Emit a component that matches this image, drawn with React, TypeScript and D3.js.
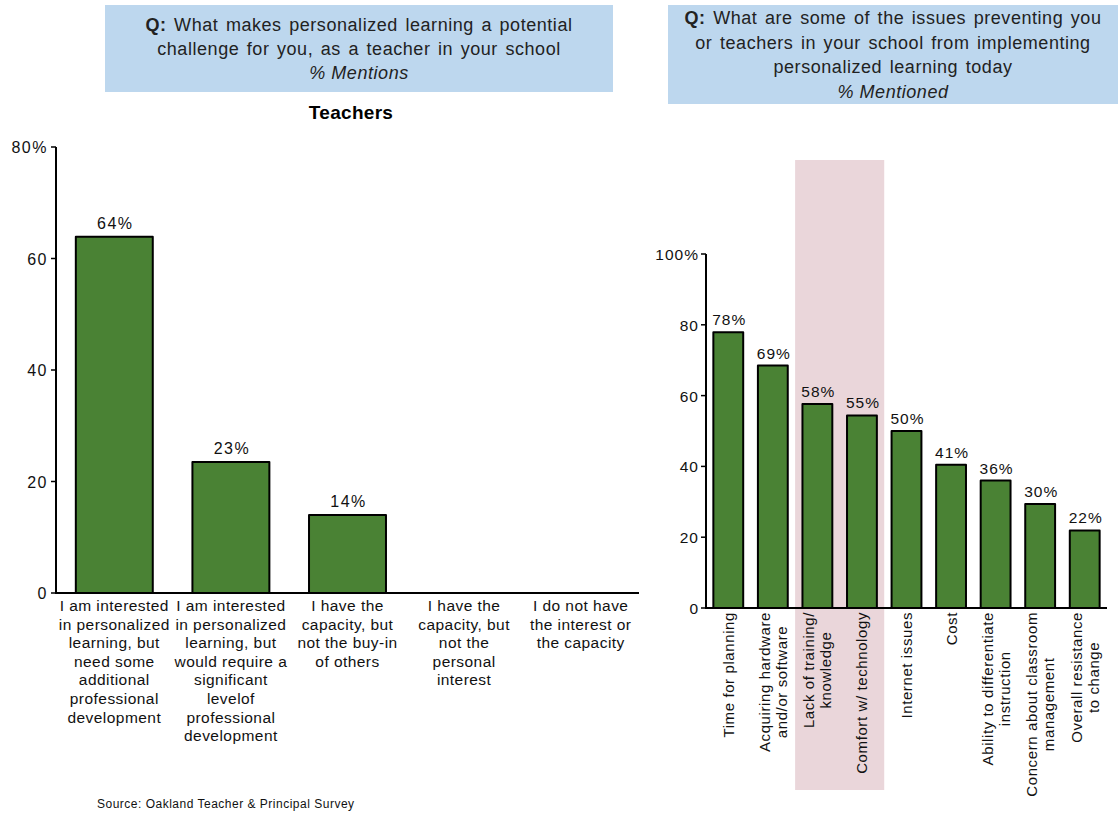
import React, { useEffect, useRef } from "react";
import * as d3 from "d3";

const leftCategories = [
  "I am interested|in personalized|learning, but|need some|additional|professional|development",
  "I am interested|in personalized|learning, but|would require a|significant|levelof|professional|development",
  "I have the|capacity, but|not the buy-in|of others",
  "I have the|capacity, but|not the|personal|interest",
  "I do not have|the interest or|the capacity",
];
const leftValues = [63.9, 23.5, 14.0, 0, 0];
const leftValueLabels = ["64%", "23%", "14%", "", ""];
const leftTicks = [0, 20, 40, 60, 80];
const leftTickLabels = ["0", "20", "40", "60", "80%"];

const rightCategories = [
  "Time for planning",
  "Acquiring hardware|and/or software",
  "Lack of training/|knowledge",
  "Comfort w/ technology",
  "Internet issues",
  "Cost",
  "Ability to differentiate|instruction",
  "Concern about classroom|management",
  "Overall resistance|to change",
];
const rightValues = [77.9, 68.5, 57.6, 54.4, 50.0, 40.5, 36.0, 29.4, 21.9];
const rightValueLabels = ["78%", "69%", "58%", "55%", "50%", "41%", "36%", "30%", "22%"];
const rightTicks = [0, 20, 40, 60, 80, 100];
const rightTickLabels = ["0", "20", "40", "60", "80", "100%"];
const highlighted = [2, 3];

const leftTitle = [
  [{ t: "Q:", b: true }, { t: " What makes personalized learning a potential", b: false }],
  [{ t: "challenge for you, as a teacher in your school", b: false }],
];
const leftSubtitle = "% Mentions";
const rightTitle = [
  [{ t: "Q:", b: true }, { t: " What are some of the issues preventing you", b: false }],
  [{ t: "or teachers in your school from implementing", b: false }],
  [{ t: "personalized learning today", b: false }],
];
const rightSubtitle = "% Mentioned";

const FONT = "'Liberation Sans', Arial, sans-serif";
const GREEN = "#4a8234";

export default function App() {
  const ref = useRef<SVGSVGElement>(null);

  useEffect(() => {
    const svg = d3.select(ref.current);
    svg.selectAll("*").remove();
    svg.style("font-family", FONT);

    // ---------- Title boxes ----------
    const drawTitle = (x0: number, x1: number, y0: number, y1: number, lines: any[], sub: string, firstY: number, dy: number) => {
      svg.append("rect").attr("x", x0).attr("y", y0).attr("width", x1 - x0).attr("height", y1 - y0).attr("fill", "#bdd7ee");
      const cx = (x0 + x1) / 2;
      lines.forEach((parts: any[], i: number) => {
        const t = svg.append("text").attr("x", cx).attr("y", firstY + i * dy).attr("text-anchor", "middle")
          .attr("font-size", 18).attr("letter-spacing", 0.55).attr("word-spacing", 2).attr("fill", "#222");
        parts.forEach((p) => t.append("tspan").attr("font-weight", p.b ? "bold" : "normal").text(p.t));
      });
      svg.append("text").attr("x", cx).attr("y", firstY + lines.length * dy).attr("text-anchor", "middle")
        .attr("font-size", 18).attr("letter-spacing", 0.55).attr("font-style", "italic").attr("fill", "#222").text(sub);
    };
    drawTitle(105, 613, 5, 92, leftTitle, leftSubtitle, 31, 24);
    drawTitle(668, 1118, 5, 104, rightTitle, rightSubtitle, 24, 24.5);

    svg.append("text").attr("x", 351).attr("y", 119).attr("text-anchor", "middle").attr("font-size", 19)
      .attr("letter-spacing", 0.3).attr("font-weight", "bold").text("Teachers");

    // ---------- Left chart ----------
    const yL = d3.scaleLinear().domain([0, 80]).range([593, 147]);
    const xL = d3.scaleBand().domain(leftCategories).range([56, 639]).paddingInner(0.34).paddingOuter(0.17);
    const gL = svg.append("g");
    gL.selectAll("rect.bar").data(leftCategories.map((c, i) => ({ c, v: leftValues[i] })).filter((d) => d.v > 0))
      .enter().append("rect")
      .attr("x", (d) => xL(d.c)!).attr("width", xL.bandwidth())
      .attr("y", (d) => yL(d.v)).attr("height", (d) => yL(0) - yL(d.v))
      .attr("fill", GREEN).attr("stroke", "#000").attr("stroke-width", 2).attr("stroke-linejoin", "round");
    leftCategories.forEach((c, i) => {
      if (!leftValueLabels[i]) return;
      gL.append("text").attr("x", xL(c)! + xL.bandwidth() / 2 + 1).attr("y", yL(leftValues[i]) - 8)
        .attr("text-anchor", "middle").attr("font-size", 16).attr("letter-spacing", 1.5).attr("fill", "#111").text(leftValueLabels[i]);
    });
    // axes
    gL.append("line").attr("x1", 56).attr("x2", 56).attr("y1", yL(80)).attr("y2", yL(0)).attr("stroke", "#000").attr("stroke-width", 2);
    gL.append("line").attr("x1", 55).attr("x2", 639).attr("y1", yL(0)).attr("y2", yL(0)).attr("stroke", "#000").attr("stroke-width", 2);
    leftTicks.forEach((t, i) => {
      gL.append("line").attr("x1", 51).attr("x2", 56).attr("y1", yL(t)).attr("y2", yL(t)).attr("stroke", "#000").attr("stroke-width", 1.5);
      gL.append("text").attr("x", 48).attr("y", yL(t) + 6).attr("text-anchor", "end").attr("font-size", 16)
        .attr("letter-spacing", 1.5).attr("fill", "#111").text(leftTickLabels[i]);
    });
    leftCategories.forEach((c) => {
      const lines = c.split("|");
      const cx = xL(c)! + xL.bandwidth() / 2;
      lines.forEach((ln, j) => {
        gL.append("text").attr("x", cx).attr("y", 611 + j * 18.6).attr("text-anchor", "middle")
          .attr("font-size", 15.5).attr("letter-spacing", 0.45).attr("fill", "#111").text(ln);
      });
    });

    svg.append("text").attr("x", 97).attr("y", 808).attr("font-size", 12).attr("letter-spacing", 0.5).attr("fill", "#111")
      .text("Source: Oakland Teacher & Principal Survey");

    // ---------- Right chart ----------
    const yR = d3.scaleLinear().domain([0, 100]).range([608, 254]);
    const xR = d3.scaleBand().domain(rightCategories).range([706, 1107]).paddingInner(0.33).paddingOuter(0.165);
    const gR = svg.append("g");
    const step = xR.step();
    const hx0 = xR(rightCategories[highlighted[0]])! - (step - xR.bandwidth()) / 2;
    const hx1 = xR(rightCategories[highlighted[highlighted.length - 1]])! + xR.bandwidth() + (step - xR.bandwidth()) / 2;
    gR.append("rect").attr("x", hx0).attr("y", 160).attr("width", hx1 - hx0).attr("height", 630).attr("fill", "#ead6da");

    gR.selectAll("rect.bar").data(rightCategories.map((c, i) => ({ c, v: rightValues[i] })))
      .enter().append("rect")
      .attr("x", (d) => xR(d.c)!).attr("width", xR.bandwidth())
      .attr("y", (d) => yR(d.v)).attr("height", (d) => yR(0) - yR(d.v))
      .attr("fill", GREEN).attr("stroke", "#000").attr("stroke-width", 2).attr("stroke-linejoin", "round");
    rightCategories.forEach((c, i) => {
      gR.append("text").attr("x", xR(c)! + xR.bandwidth() / 2 + 1).attr("y", yR(rightValues[i]) - 7)
        .attr("text-anchor", "middle").attr("font-size", 15.5).attr("letter-spacing", 1).attr("fill", "#111").text(rightValueLabels[i]);
    });
    gR.append("line").attr("x1", 706).attr("x2", 706).attr("y1", yR(100)).attr("y2", yR(0)).attr("stroke", "#000").attr("stroke-width", 2);
    gR.append("line").attr("x1", 705).attr("x2", 1107).attr("y1", yR(0)).attr("y2", yR(0)).attr("stroke", "#000").attr("stroke-width", 2);
    rightTicks.forEach((t, i) => {
      gR.append("line").attr("x1", 701).attr("x2", 706).attr("y1", yR(t)).attr("y2", yR(t)).attr("stroke", "#000").attr("stroke-width", 1.5);
      gR.append("text").attr("x", 699).attr("y", yR(t) + 6).attr("text-anchor", "end").attr("font-size", 15.5)
        .attr("letter-spacing", 1).attr("fill", "#111").text(rightTickLabels[i]);
    });
    rightCategories.forEach((c) => {
      const lines = c.split("|");
      const cx = xR(c)! + xR.bandwidth() / 2;
      const g = gR.append("g").attr("transform", `translate(${cx},612) rotate(-90)`);
      const texts = lines.map((ln, j) =>
        g.append("text").attr("y", 5.5 + (j - (lines.length - 1) / 2) * 17).attr("font-size", 15)
          .attr("letter-spacing", 0.6).attr("text-anchor", "middle").attr("fill", "#111").text(ln)
      );
      const maxW = d3.max(texts, (t) => (t.node() as SVGTextElement).getComputedTextLength()) || 0;
      texts.forEach((t) => t.attr("x", -maxW / 2));
    });
  }, []);

  return (
    <svg ref={ref} width={1118} height={813} style={{ position: "absolute", left: 0, top: 0, background: "#fff" }} />
  );
}
